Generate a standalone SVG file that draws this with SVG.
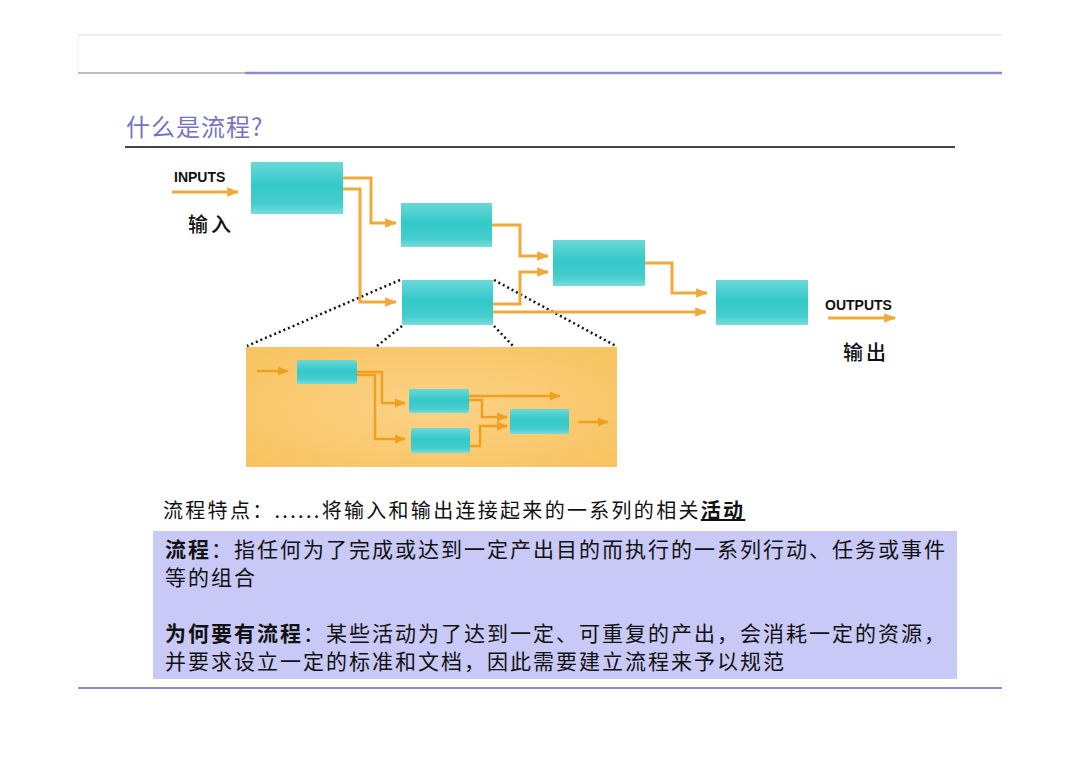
<svg xmlns="http://www.w3.org/2000/svg" width="1080" height="763" viewBox="0 0 1080 763">
<defs>
<linearGradient id="teal" x1="0" y1="0" x2="0" y2="1">
<stop offset="0" stop-color="#6ad8d8"/>
<stop offset="0.45" stop-color="#33c9c9"/>
<stop offset="0.8" stop-color="#45cdcd"/>
<stop offset="1" stop-color="#78dcdc"/>
</linearGradient>
<radialGradient id="orange" cx="0.5" cy="0.5" r="0.7">
<stop offset="0" stop-color="#fbd287"/>
<stop offset="1" stop-color="#f8c35f"/>
</radialGradient>
<marker id="ah" viewBox="0 0 10 10" refX="9" refY="5" markerWidth="4" markerHeight="4" orient="auto" markerUnits="strokeWidth">
<path d="M0,1 L10,5 L0,9 z" fill="#eeaa3a"/>
</marker>
<marker id="ah2" viewBox="0 0 10 10" refX="9" refY="5" markerWidth="4.5" markerHeight="4.5" orient="auto" markerUnits="strokeWidth">
<path d="M0,1 L10,5 L0,9 z" fill="#f0a020"/>
</marker>
</defs>
<style>
.box{fill:url(#teal)}
.ibox{fill:url(#teal)}
.c{fill:none;stroke:#eeaa3a;stroke-width:3;marker-end:url(#ah)}
.ic{fill:none;stroke:#f0a020;stroke-width:2.5;marker-end:url(#ah2)}
.dot{fill:none;stroke:#111;stroke-width:2.5;stroke-dasharray:2 3}
.lbl{font-family:"Liberation Sans",Arial,sans-serif;font-weight:bold;font-size:14px;fill:#111}
.cjk{font-family:"Noto Sans CJK SC","Noto Sans",sans-serif;fill:#111}
</style>
<rect width="1080" height="763" fill="#ffffff"/>
<g id="header">
<line x1="78" y1="35" x2="1002" y2="35" stroke="#eeeeee" stroke-width="2"/>
<line x1="78" y1="35" x2="78" y2="73" stroke="#f0f0f0" stroke-width="1"/>
<line x1="78" y1="73" x2="245" y2="73" stroke="#a8a8b0" stroke-width="1.5"/>
<line x1="245" y1="73" x2="1002" y2="73" stroke="#8c8cd4" stroke-width="2.5"/>
</g>
<g id="title">
<text x="126" y="136" font-family="Noto Sans CJK SC, sans-serif" font-size="24" fill="#7575bf" letter-spacing="1">什么是流程?</text>
<line x1="125" y1="147" x2="955" y2="147" stroke="#444" stroke-width="2"/>
</g>
<g id="panel">
<rect x="246" y="347" width="371" height="120" fill="url(#orange)"/>
</g>
<g id="zoomlines">
<line class="dot" x1="400" y1="280" x2="247" y2="346"/>
<line class="dot" x1="402" y1="326" x2="377" y2="346"/>
<line class="dot" x1="494" y1="280" x2="616" y2="346"/>
<line class="dot" x1="494" y1="326" x2="513" y2="346"/>
</g>
<g id="n1"><rect class="box" x="251" y="162" width="92" height="52"/></g>
<g id="n2"><rect class="box" x="401" y="203" width="91" height="44"/></g>
<g id="n3"><rect class="box" x="553" y="240" width="92" height="46"/></g>
<g id="n4"><rect class="box" x="402" y="280" width="91" height="45"/></g>
<g id="n5"><rect class="box" x="716" y="280" width="92" height="45"/></g>
<g id="i1"><rect class="ibox" x="297" y="360" width="60" height="24" rx="2"/></g>
<g id="i2"><rect class="ibox" x="409" y="389" width="60" height="24" rx="2"/></g>
<g id="i3"><rect class="ibox" x="411" y="428" width="59" height="25" rx="2"/></g>
<g id="i4"><rect class="ibox" x="510" y="409" width="59" height="25" rx="2"/></g>
<g id="connectors">
<line class="c" x1="172" y1="192" x2="238" y2="192"/>
<polyline class="c" points="343,178 371,178 371,223 396,223"/>
<polyline class="c" points="343,189 360,189 360,302 396,302"/>
<polyline class="c" points="492,225 520,225 520,256 548,256"/>
<polyline class="c" points="493,304 520,304 520,272 548,272"/>
<line class="c" x1="493" y1="312" x2="706" y2="312"/>
<polyline class="c" points="645,263 672,263 672,293 707,293"/>
<line class="c" x1="828" y1="318" x2="895" y2="318"/>
<line class="ic" x1="257" y1="371" x2="288" y2="371"/>
<polyline class="ic" points="357,372 382,372 382,403 405,403"/>
<polyline class="ic" points="357,375 375,375 375,439 405,439"/>
<line class="ic" x1="469" y1="396" x2="560" y2="396"/>
<polyline class="ic" points="469,400 482,400 482,417 507,417"/>
<polyline class="ic" points="470,446 480,446 480,426 507,426"/>
<line class="ic" x1="578" y1="422" x2="608" y2="422"/>
</g>
<g id="labels">
<text class="lbl" x="174" y="182">INPUTS</text>
<text class="cjk" x="188" y="232" font-size="20" font-weight="500" letter-spacing="3">输入</text>
<text class="lbl" x="825" y="310">OUTPUTS</text>
<text class="cjk" x="843" y="360" font-size="20" font-weight="500" letter-spacing="3">输出</text>
</g>
<g id="feature">
<text class="cjk" x="163" y="518" font-size="20" letter-spacing="2.3">流程特点：......将输入和输出连接起来的一系列的相关<tspan font-weight="bold" text-decoration="underline">活动</tspan></text>
</g>
<g id="definition">
<rect x="153" y="531" width="804" height="148" fill="#c9c9f7"/>
<text class="cjk" x="165" y="557" font-size="21" letter-spacing="2"><tspan font-weight="bold">流程</tspan>：指任何为了完成或达到一定产出目的而执行的一系列行动、任务或事件</text>
<text class="cjk" x="165" y="585" font-size="21" letter-spacing="2">等的组合</text>
<text class="cjk" x="165" y="641" font-size="21" letter-spacing="2"><tspan font-weight="bold">为何要有流程</tspan>：某些活动为了达到一定、可重复的产出，会消耗一定的资源，</text>
<text class="cjk" x="165" y="669" font-size="21" letter-spacing="2">并要求设立一定的标准和文档，因此需要建立流程来予以规范</text>
</g>
<g id="footer">
<line x1="78" y1="688" x2="1002" y2="688" stroke="#8c8cd4" stroke-width="2"/>
</g>
</svg>
